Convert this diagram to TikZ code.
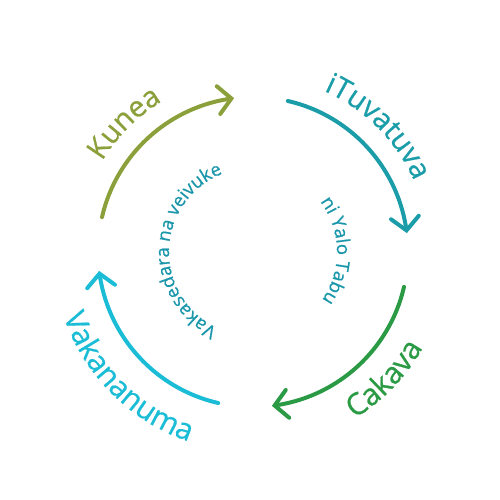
\documentclass[tikz,border=0pt]{standalone}
\usepackage{fontspec}
\setmainfont{Open Sans}
\newfontfamily\lblfont{Open Sans}[FakeBold=0.7]
\usetikzlibrary{arrows.meta,decorations.text,bending}
\definecolor{cKunea}{HTML}{8BA03A}
\definecolor{cTuva}{HTML}{1A9DA8}
\definecolor{cCakava}{HTML}{2A9A45}
\definecolor{cVaka}{HTML}{1BBCD6}
\definecolor{cInner}{HTML}{1A96AA}
\begin{document}
\begin{tikzpicture}[x=1pt,y=1pt,
  cyclearc/.style={line width=4pt, line cap=round,
    -{Straight Barb[length=13pt,width=28pt,line cap=round,flex]}},
]
\useasboundingbox (-253,-248) rectangle (247,252);
\coordinate (c) at (0,0);
% arcs
\draw[cyclearc,cKunea]  (167:155) arc[start angle=167,end angle=97,radius=155];
\draw[cyclearc,cTuva]   (77:155)  arc[start angle=77,end angle=7,radius=155];
\draw[cyclearc,cCakava] (-13:155) arc[start angle=-13,end angle=-83,radius=155];
\draw[cyclearc,cVaka]   (-103:155) arc[start angle=-103,end angle=-173,radius=155];
% outer labels
\path[decorate,decoration={text along path,text align=center,text color=cKunea,
  text={|\lblfont\fontsize{29}{31}\selectfont|Kunea}}]
  (170:176) arc[start angle=170,end angle=100,radius=176];
\path[decorate,decoration={text along path,text align=center,text color=cTuva,
  text={|\lblfont\fontsize{29}{31}\selectfont|iTuvatuva}}]
  (85:176) arc[start angle=85,end angle=5,radius=176];
\path[decorate,decoration={text along path,text align=center,text color=cCakava,
  text={|\lblfont\fontsize{30}{32}\selectfont|Cakava}}]
  (-80:195) arc[start angle=-80,end angle=-8,radius=195];
\path[decorate,decoration={text along path,text align=center,text color=cVaka,
  text={|\lblfont\fontsize{30}{32}\selectfont|Vakananuma}}]
  (183:200) arc[start angle=183,end angle=267,radius=200];
% inner labels
\path[decorate,decoration={text along path,text align=center,text color=cInner,
  text={|\lblfont\fontsize{18.5}{20}\selectfont|Vakasedara na veivuke}}]
  (262:84) arc[start angle=262,end angle=94,radius=84];
\path[decorate,decoration={text along path,text align=center,text color=cInner,
  text={|\lblfont\fontsize{18.5}{20}\selectfont|ni Yalo Tabu}}]
  (52:84) arc[start angle=52,end angle=-50,radius=84];
\end{tikzpicture}
\end{document}
